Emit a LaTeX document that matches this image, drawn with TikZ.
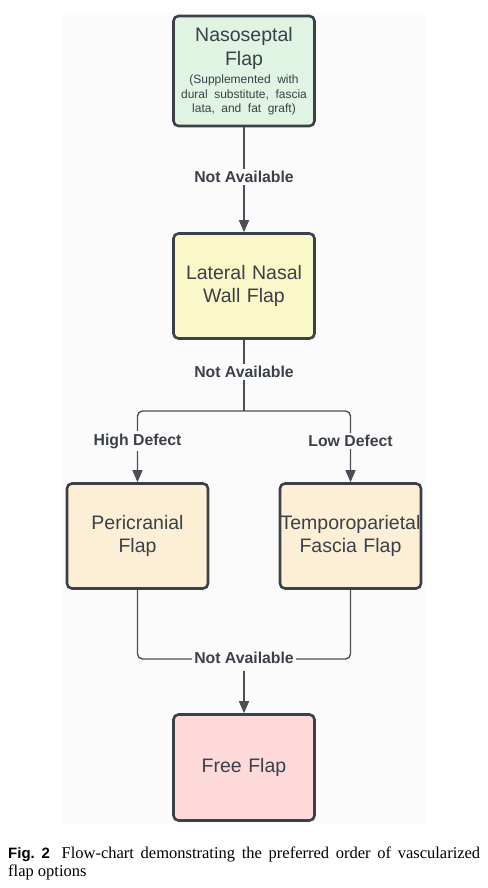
\documentclass[tikz,border=0pt]{standalone}
\usepackage{fontspec}
\setmainfont{Liberation Sans}
\newfontfamily\capserif{Liberation Serif}
\newfontfamily\capsans{Liberation Sans}
\usetikzlibrary{arrows.meta}
\definecolor{ink}{HTML}{3B4049}
\definecolor{lineclr}{HTML}{4A4F57}
\definecolor{bgc}{HTML}{FBFBFB}
\definecolor{fgreen}{HTML}{DFF4E2}
\definecolor{fyellow}{HTML}{FAF7C8}
\definecolor{fpeach}{HTML}{FCEFD6}
\definecolor{fpink}{HTML}{FDD9D9}
\begin{document}
\begin{tikzpicture}[x=1pt,y=-1pt,
  box/.style={draw=ink, line width=2.6pt, rounded corners=5pt, minimum width=141pt,
    text width=120pt, align=center, text=ink, font=\fontsize{19.5}{23}\selectfont, inner sep=0pt},
  lbl/.style={fill=bgc, text=ink, font=\bfseries\fontsize{15.8}{18}\selectfont, inner sep=2.5pt},
  conn/.style={draw=lineclr, line width=1.4pt},
  arr/.style={conn, -{Triangle[length=12pt,width=10pt]}}]
\useasboundingbox (0,0) rectangle (487,888);
\fill[white] (0,0) rectangle (487,888);
\fill[bgc] (63,13) rectangle (425,824);

\node[box, fill=fgreen, minimum height=110pt, text width=136pt] (naso) at (244,71)
  {\fontsize{19.5}{24}\selectfont Nasoseptal\\Flap\par\vspace{4pt}{\fontsize{12}{14.5}\selectfont \mbox{(Supplemented with}\\\mbox{dural substitute, fascia}\\\mbox{lata, and fat graft)}\par}};
\node[box, fill=fyellow, minimum height=105pt] (lat) at (244,286) {Lateral Nasal\\Wall Flap};
\node[box, fill=fpeach, minimum height=105pt] (peri) at (137.5,536) {Pericranial\\Flap};
\node[box, fill=fpeach, minimum height=105pt] (temp) at (350.5,536) {\makebox[\linewidth]{Temporoparietal}\\Fascia Flap};
\node[box, fill=fpink, minimum height=106pt] (free) at (244,767.5) {Free Flap};

\coordinate (split) at (244,411);
\coordinate (merge) at (244,659);

\draw[arr] (naso.south) -- (lat.north);
\draw[conn] (lat.south) -- (split);
\draw[arr, rounded corners=5pt] (split) -| (peri.north);
\draw[arr, rounded corners=5pt] (split) -| (temp.north);
\draw[conn, rounded corners=5pt] (peri.south) |- (merge) -| (temp.south);

\node[lbl] (na1) at (244,177) {Not Available};
\node[lbl] (na2) at (244,372) {Not Available};
\node[lbl] (hd) at (137.5,441) {High Defect};
\node[lbl] (ld) at (350.5,441) {Low Defect};
\node[lbl] (na3) at (244,658) {Not Available};
\draw[arr, shorten <=4pt] (na3.south) -- (free.north);

\node[anchor=base west, inner sep=0pt, text=black] (cap) at (8,858)
  {\parbox[t]{472pt}{\fontsize{16.5}{18.5}\selectfont\capserif
   {\capsans\bfseries\fontsize{15}{18}\selectfont Fig.~2}\hspace{5pt} Flow-chart demonstrating the preferred order of vascularized\linebreak flap options}};
\end{tikzpicture}
\end{document}
